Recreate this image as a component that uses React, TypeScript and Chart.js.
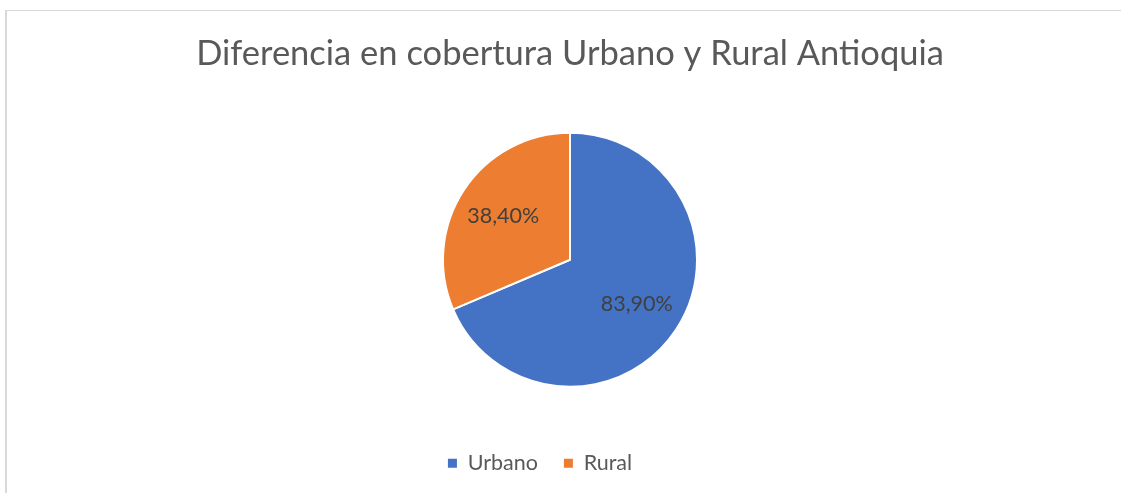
import { useEffect, useRef } from "react";
import { Chart, registerables } from "chart.js";

Chart.register(...registerables);

const titleText = "Diferencia en cobertura Urbano y Rural Antioquia";
const categories = ["Urbano", "Rural"];
const values = [83.9, 38.4];
const valueLabels = ["83,90%", "38,40%"];
const sliceColors = ["#4472C4", "#ED7D31"];

const FONT = "Lato, 'Open Sans', sans-serif";

const dataLabelPlugin = {
  id: "sliceLabels",
  afterDatasetsDraw(chart: any) {
    const meta = chart.getDatasetMeta(0);
    const ctx = chart.ctx;
    ctx.save();
    ctx.font = `21.5px ${FONT}`;
    ctx.fillStyle = "#404040";
    ctx.textAlign = "center";
    ctx.textBaseline = "middle";
    meta.data.forEach((arc: any, i: number) => {
      const { x, y, startAngle, endAngle, outerRadius } = arc.getProps(
        ["x", "y", "startAngle", "endAngle", "outerRadius"],
        true
      );
      const mid = (startAngle + endAngle) / 2;
      const r = outerRadius * 0.63;
      ctx.fillText(valueLabels[i], x + Math.cos(mid) * r, y + Math.sin(mid) * r);
    });
    ctx.restore();
  },
};

const legendShiftPlugin = {
  id: "legendShift",
  afterLayout(chart: any) {
    const lg = chart.legend;
    if (lg) {
      lg.left -= 30;
      lg.right -= 30;
    }
  },
};

export default function App() {
  const canvasRef = useRef<HTMLCanvasElement | null>(null);

  useEffect(() => {
    if (!canvasRef.current) return;
    const chart = new Chart(canvasRef.current, {
      type: "pie",
      data: {
        labels: categories,
        datasets: [
          {
            data: values,
            backgroundColor: sliceColors,
            borderColor: "#ffffff",
            borderWidth: 2,
          },
        ],
      },
      options: {
        responsive: false,
        animation: false,
        radius: 127,
        layout: { padding: { left: 19, right: 0, top: 0, bottom: 9 } },
        plugins: {
          tooltip: { enabled: false },
          title: {
            display: true,
            text: titleText,
            color: "#595959",
            font: { family: FONT, size: 34.5, weight: "normal", lineHeight: 1.2 },
            padding: { top: 33, bottom: 18.6 },
          },
          legend: {
            display: true,
            position: "bottom",
            labels: {
              color: "#595959",
              font: { family: FONT, size: 21.5 },
              boxWidth: 9,
              boxHeight: 9,
              padding: 26,
              generateLabels: (c: any) =>
                categories.map((name, i) => ({
                  text: name,
                  fillStyle: sliceColors[i],
                  strokeStyle: sliceColors[i],
                  lineWidth: 0,
                  fontColor: "#595959",
                  hidden: false,
                  index: i,
                  datasetIndex: 0,
                })),
            },
          },
        },
      } as any,
      plugins: [dataLabelPlugin, legendShiftPlugin],
    });
    return () => chart.destroy();
  }, []);

  return (
    <div
      style={{
        position: "fixed",
        left: 0,
        top: 0,
        width: 1121,
        height: 493,
        background: "#ffffff",
        overflow: "hidden",
      }}
    >
      <div
        style={{
          position: "absolute",
          left: 5,
          top: 10,
          right: -10,
          bottom: -10,
          borderLeft: "2px solid #d9d9d9",
          borderTop: "1px solid #d9d9d9",
        }}
      />
      <canvas
        ref={canvasRef}
        width={1121}
        height={493}
        style={{ position: "absolute", left: 0, top: 0 }}
      />
    </div>
  );
}
